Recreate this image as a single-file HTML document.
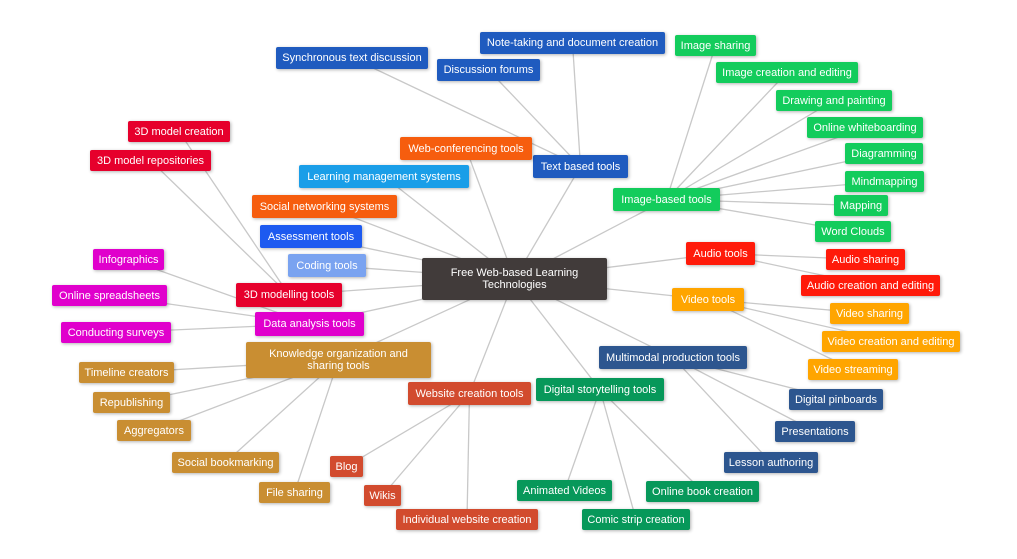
<!DOCTYPE html>
<html><head><meta charset="utf-8"><style>
body{margin:0;width:1017px;height:559px;background:#fff;position:relative;overflow:hidden;font-family:"Liberation Sans",sans-serif;}
.n{position:absolute;color:#fff;font-size:11px;display:flex;align-items:center;justify-content:center;text-align:center;border-radius:2px;box-shadow:1px 1px 3px rgba(0,0,0,.3);line-height:12px;white-space:nowrap;}
svg{position:absolute;left:0;top:0}
line{stroke:#c8c8c8;stroke-width:1.3}
.b{background:#1f5bbf}.g{background:#13cc5c}.o{background:#f65d0e}.lb{background:#1a9ee8}.ab{background:#1d5af0}.cb{background:#7aa3f0}.r{background:#e6002c}.m{background:#e000cc}.k{background:#c98e32}.w{background:#d24b2e}.dg{background:#07985a}.mp{background:#2d568f}.ar{background:#ff1a0a}.vo{background:#ffa500}
</style></head><body>
<svg width="1017" height="559">
<g>
<line x1="514.5" y1="279" x2="580.5" y2="166.5"/><line x1="514.5" y1="279" x2="666.5" y2="199.5"/><line x1="514.5" y1="279" x2="466" y2="148.5"/><line x1="514.5" y1="279" x2="384" y2="176.5"/><line x1="514.5" y1="279" x2="324.5" y2="206.5"/><line x1="514.5" y1="279" x2="311" y2="236.5"/><line x1="514.5" y1="279" x2="327" y2="265.5"/><line x1="514.5" y1="279" x2="289" y2="295"/><line x1="514.5" y1="279" x2="309.5" y2="324"/><line x1="514.5" y1="279" x2="338.5" y2="360"/><line x1="514.5" y1="279" x2="469.5" y2="393.5"/><line x1="514.5" y1="279" x2="600" y2="389.5"/><line x1="514.5" y1="279" x2="673" y2="357.5"/><line x1="514.5" y1="279" x2="720.5" y2="253.5"/><line x1="514.5" y1="279" x2="708" y2="299.5"/>
<line x1="580.5" y1="166.5" x2="352" y2="58"/><line x1="580.5" y1="166.5" x2="572.5" y2="43"/><line x1="580.5" y1="166.5" x2="488.5" y2="70"/>
<line x1="666.5" y1="199.5" x2="715.5" y2="45.5"/><line x1="666.5" y1="199.5" x2="787" y2="72.5"/><line x1="666.5" y1="199.5" x2="834" y2="100.5"/><line x1="666.5" y1="199.5" x2="865" y2="127.5"/><line x1="666.5" y1="199.5" x2="884" y2="153.5"/><line x1="666.5" y1="199.5" x2="884.5" y2="181.5"/><line x1="666.5" y1="199.5" x2="861" y2="205.5"/><line x1="666.5" y1="199.5" x2="853" y2="231.5"/>
<line x1="289" y1="295" x2="179" y2="131.5"/><line x1="289" y1="295" x2="150.5" y2="160.5"/>
<line x1="309.5" y1="324" x2="128.5" y2="259.5"/><line x1="309.5" y1="324" x2="109.5" y2="295.5"/><line x1="309.5" y1="324" x2="116" y2="332.5"/>
<line x1="338.5" y1="360" x2="126.5" y2="372.5"/><line x1="338.5" y1="360" x2="131.5" y2="402.5"/><line x1="338.5" y1="360" x2="154" y2="430.5"/><line x1="338.5" y1="360" x2="225.5" y2="462.5"/><line x1="338.5" y1="360" x2="294.5" y2="492.5"/>
<line x1="469.5" y1="393.5" x2="346.5" y2="466.5"/><line x1="469.5" y1="393.5" x2="382.5" y2="495.5"/><line x1="469.5" y1="393.5" x2="467" y2="519.5"/>
<line x1="600" y1="389.5" x2="564.5" y2="490.5"/><line x1="600" y1="389.5" x2="636" y2="519.5"/><line x1="600" y1="389.5" x2="702.5" y2="491.5"/>
<line x1="673" y1="357.5" x2="836" y2="399.5"/><line x1="673" y1="357.5" x2="815" y2="431.5"/><line x1="673" y1="357.5" x2="771" y2="462.5"/>
<line x1="720.5" y1="253.5" x2="865.5" y2="259.5"/><line x1="720.5" y1="253.5" x2="870.5" y2="285.5"/>
<line x1="708" y1="299.5" x2="869.5" y2="313.5"/><line x1="708" y1="299.5" x2="891" y2="341.5"/><line x1="708" y1="299.5" x2="853" y2="369.5"/>
</g></svg>
<div class="n" style="left:422px;top:258px;width:185px;height:42px;background:#413b3a;white-space:normal">Free Web-based Learning<br>Technologies</div>
<div class="n b" style="left:276px;top:47px;width:152px;height:22px">Synchronous text discussion</div>
<div class="n b" style="left:480px;top:32px;width:185px;height:22px">Note-taking and document creation</div>
<div class="n b" style="left:437px;top:59px;width:103px;height:22px">Discussion forums</div>
<div class="n b" style="left:533px;top:155px;width:95px;height:23px">Text based tools</div>
<div class="n g" style="left:675px;top:35px;width:81px;height:21px">Image sharing</div>
<div class="n g" style="left:716px;top:62px;width:142px;height:21px">Image creation and editing</div>
<div class="n g" style="left:776px;top:90px;width:116px;height:21px">Drawing and painting</div>
<div class="n g" style="left:807px;top:117px;width:116px;height:21px">Online whiteboarding</div>
<div class="n g" style="left:845px;top:143px;width:78px;height:21px">Diagramming</div>
<div class="n g" style="left:845px;top:171px;width:79px;height:21px">Mindmapping</div>
<div class="n g" style="left:834px;top:195px;width:54px;height:21px">Mapping</div>
<div class="n g" style="left:815px;top:221px;width:76px;height:21px">Word Clouds</div>
<div class="n g" style="left:613px;top:188px;width:107px;height:23px">Image-based tools</div>
<div class="n o" style="left:400px;top:137px;width:132px;height:23px">Web-conferencing tools</div>
<div class="n lb" style="left:299px;top:165px;width:170px;height:23px">Learning management systems</div>
<div class="n o" style="left:252px;top:195px;width:145px;height:23px">Social networking systems</div>
<div class="n ab" style="left:260px;top:225px;width:102px;height:23px">Assessment tools</div>
<div class="n cb" style="left:288px;top:254px;width:78px;height:23px">Coding tools</div>
<div class="n r" style="left:236px;top:283px;width:106px;height:24px">3D modelling tools</div>
<div class="n m" style="left:255px;top:312px;width:109px;height:24px">Data analysis tools</div>
<div class="n k" style="left:246px;top:342px;width:185px;height:36px;white-space:normal">Knowledge organization and<br>sharing tools</div>
<div class="n r" style="left:128px;top:121px;width:102px;height:21px">3D model creation</div>
<div class="n r" style="left:90px;top:150px;width:121px;height:21px">3D model repositories</div>
<div class="n m" style="left:93px;top:249px;width:71px;height:21px">Infographics</div>
<div class="n m" style="left:52px;top:285px;width:115px;height:21px">Online spreadsheets</div>
<div class="n m" style="left:61px;top:322px;width:110px;height:21px">Conducting surveys</div>
<div class="n k" style="left:79px;top:362px;width:95px;height:21px">Timeline creators</div>
<div class="n k" style="left:93px;top:392px;width:77px;height:21px">Republishing</div>
<div class="n k" style="left:117px;top:420px;width:74px;height:21px">Aggregators</div>
<div class="n k" style="left:172px;top:452px;width:107px;height:21px">Social bookmarking</div>
<div class="n k" style="left:259px;top:482px;width:71px;height:21px">File sharing</div>
<div class="n w" style="left:408px;top:382px;width:123px;height:23px">Website creation tools</div>
<div class="n w" style="left:330px;top:456px;width:33px;height:21px">Blog</div>
<div class="n w" style="left:364px;top:485px;width:37px;height:21px">Wikis</div>
<div class="n w" style="left:396px;top:509px;width:142px;height:21px">Individual website creation</div>
<div class="n dg" style="left:536px;top:378px;width:128px;height:23px">Digital storytelling tools</div>
<div class="n dg" style="left:517px;top:480px;width:95px;height:21px">Animated Videos</div>
<div class="n dg" style="left:582px;top:509px;width:108px;height:21px">Comic strip creation</div>
<div class="n dg" style="left:646px;top:481px;width:113px;height:21px">Online book creation</div>
<div class="n mp" style="left:599px;top:346px;width:148px;height:23px">Multimodal production tools</div>
<div class="n mp" style="left:789px;top:389px;width:94px;height:21px">Digital pinboards</div>
<div class="n mp" style="left:775px;top:421px;width:80px;height:21px">Presentations</div>
<div class="n mp" style="left:724px;top:452px;width:94px;height:21px">Lesson authoring</div>
<div class="n ar" style="left:686px;top:242px;width:69px;height:23px">Audio tools</div>
<div class="n ar" style="left:826px;top:249px;width:79px;height:21px">Audio sharing</div>
<div class="n ar" style="left:801px;top:275px;width:139px;height:21px">Audio creation and editing</div>
<div class="n vo" style="left:672px;top:288px;width:72px;height:23px">Video tools</div>
<div class="n vo" style="left:830px;top:303px;width:79px;height:21px">Video sharing</div>
<div class="n vo" style="left:822px;top:331px;width:138px;height:21px">Video creation and editing</div>
<div class="n vo" style="left:808px;top:359px;width:90px;height:21px">Video streaming</div>
</body></html>
